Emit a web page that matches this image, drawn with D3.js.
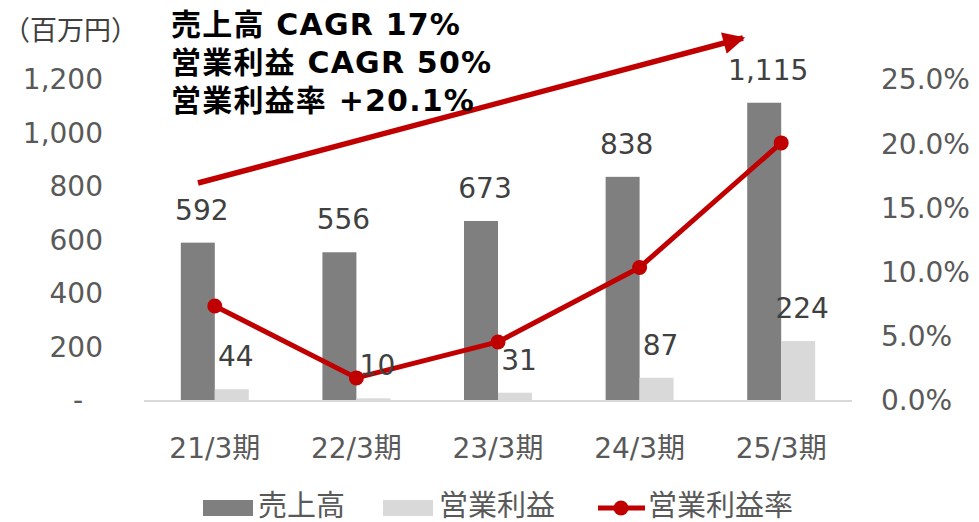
<!DOCTYPE html>
<html>
<head>
<meta charset="utf-8">
<script src="https://cdn.jsdelivr.net/npm/d3@7"></script>
<style>
  body { margin: 0; background: #fff; }
  text { font-family: "DejaVu Sans", "Noto Sans CJK JP", sans-serif; }
</style>
</head>
<body>
<div id="chart"></div>
<script>
// chart data
const categories = ["21/3期", "22/3期", "23/3期", "24/3期", "25/3期"];
const sales = [592, 556, 673, 838, 1115];      // 売上高 (百万円)
const opIncome = [44, 10, 31, 87, 224];        // 営業利益 (百万円)
const opMargin = [7.4, 1.8, 4.6, 10.4, 20.1];  // 営業利益率 (%)
const leftTicks = [0, 200, 400, 600, 800, 1000, 1200];
const rightTicks = [0, 5, 10, 15, 20, 25];
const headline = ["売上高 CAGR 17%", "営業利益 CAGR 50%", "営業利益率 +20.1%"];
const seriesNames = ["売上高", "営業利益", "営業利益率"];

let w = 979,
    h = 522;

const darkGray = "#7f7f7f",
      lightGray = "#d9d9d9",
      red = "#c00000",
      labelColor = "#595959",
      valueColor = "#404040";

let svg = d3.select("#chart")
            .append("svg")
            .attr("width", w)
            .attr("height", h);

// scales
let x0 = d3.scaleBand()
           .domain(categories)
           .range([144, 852]);

let groupW = x0.bandwidth() * 0.48;
let x1 = d3.scaleBand()
           .domain(["sales", "op"])
           .range([(x0.bandwidth() - groupW) / 2, (x0.bandwidth() + groupW) / 2]);

let y = d3.scaleLinear().domain([0, 1200]).range([401, 80]);
let y2 = d3.scaleLinear().domain([0, 25]).range([401, 80]);

// left axis
let leftAxis = svg.append("g")
  .attr("transform", "translate(103,0)")
  .call(d3.axisLeft(y).tickValues(leftTicks).tickSize(0).tickPadding(0)
          .tickFormat(d => d === 0 ? "-" : d3.format(",")(d)));
leftAxis.select(".domain").remove();
leftAxis.selectAll("text")
  .attr("fill", labelColor)
  .style("font-size", "28px")
  .attr("dx", d => d === 0 ? -20 : 0);

// right axis
let rightAxis = svg.append("g")
  .attr("transform", "translate(881,0)")
  .call(d3.axisRight(y2).tickValues(rightTicks).tickSize(0).tickPadding(0)
          .tickFormat(d => d.toFixed(1) + "%"));
rightAxis.select(".domain").remove();
rightAxis.selectAll("text")
  .attr("fill", labelColor)
  .style("font-size", "28px");

// bars
let rows = categories.map((c, i) => ({ cat: c, sales: sales[i], op: opIncome[i], margin: opMargin[i] }));

svg.selectAll(".bar-sales")
  .data(rows)
  .enter()
  .append("rect")
  .attr("class", "bar-sales")
  .attr("x", d => x0(d.cat) + x1("sales"))
  .attr("width", x1.bandwidth())
  .attr("y", d => y(d.sales))
  .attr("height", d => y(0) - y(d.sales))
  .attr("fill", darkGray);

svg.selectAll(".bar-op")
  .data(rows)
  .enter()
  .append("rect")
  .attr("class", "bar-op")
  .attr("x", d => x0(d.cat) + x1("op"))
  .attr("width", x1.bandwidth())
  .attr("y", d => y(d.op))
  .attr("height", d => y(0) - y(d.op))
  .attr("fill", lightGray);

// category axis line
svg.append("line")
  .attr("x1", x0.range()[0])
  .attr("x2", x0.range()[1])
  .attr("y1", y(0))
  .attr("y2", y(0))
  .attr("stroke", lightGray)
  .attr("stroke-width", 2);

// category labels
svg.selectAll(".cat")
  .data(categories)
  .enter()
  .append("text")
  .attr("class", "cat")
  .attr("x", d => x0(d) + x0.bandwidth() / 2)
  .attr("y", 458)
  .attr("text-anchor", "middle")
  .attr("fill", labelColor)
  .style("font-size", "28px")
  .text(d => d);

// margin line
let line = d3.line()
  .x(d => x0(d.cat) + x0.bandwidth() / 2)
  .y(d => y2(d.margin));

svg.append("path")
  .datum(rows)
  .attr("d", line)
  .attr("fill", "none")
  .attr("stroke", red)
  .attr("stroke-width", 5)
  .attr("stroke-linejoin", "round");

svg.selectAll(".dot")
  .data(rows)
  .enter()
  .append("circle")
  .attr("cx", d => x0(d.cat) + x0.bandwidth() / 2)
  .attr("cy", d => y2(d.margin))
  .attr("r", 7.5)
  .attr("fill", red);

// value labels (drawn last, on top)
svg.selectAll(".lbl-sales")
  .data(rows)
  .enter()
  .append("text")
  .attr("x", d => x0(d.cat) + x1("sales") + x1.bandwidth() / 2 + 4)
  .attr("y", d => y(d.sales) - 23)
  .attr("text-anchor", "middle")
  .attr("fill", valueColor)
  .style("font-size", "28px")
  .text(d => d3.format(",")(d.sales));

svg.selectAll(".lbl-op")
  .data(rows)
  .enter()
  .append("text")
  .attr("x", d => x0(d.cat) + x1("op") + x1.bandwidth() / 2 + 4)
  .attr("y", d => y(d.op) - 23)
  .attr("text-anchor", "middle")
  .attr("fill", valueColor)
  .style("font-size", "28px")
  .text(d => d3.format(",")(d.op));

// unit label
svg.append("text")
  .attr("x", 3)
  .attr("y", 40)
  .attr("fill", valueColor)
  .style("font-size", "27px")
  .text("（百万円）");

// growth arrow annotation
svg.append("defs").append("marker")
  .attr("id", "arrowhead")
  .attr("viewBox", "0 0 10 10")
  .attr("refX", 9)
  .attr("refY", 5)
  .attr("markerWidth", 4.4)
  .attr("markerHeight", 4)
  .attr("markerUnits", "strokeWidth")
  .attr("orient", "auto")
  .append("path")
  .attr("d", "M0,0 L10,5 L0,10 Z")
  .attr("fill", red);

svg.append("line")
  .attr("x1", 198)
  .attr("y1", 183)
  .attr("x2", 743)
  .attr("y2", 38)
  .attr("stroke", red)
  .attr("stroke-width", 5.5)
  .attr("marker-end", "url(#arrowhead)");

// headline text
svg.selectAll(".headline")
  .data(headline)
  .enter()
  .append("text")
  .attr("x", 171)
  .attr("y", (d, i) => 35 + i * 38)
  .attr("fill", "#000")
  .style("font-size", "30px")
  .style("font-weight", "bold")
  .style("letter-spacing", "1.2px")
  .text(d => d);

// legend
let legend = svg.append("g");
let ly = 508;

legend.append("rect").attr("x", 203).attr("y", ly - 8).attr("width", 50).attr("height", 16).attr("fill", darkGray);
legend.append("text").attr("x", 258).attr("y", ly + 8).attr("fill", labelColor)
  .style("font-size", "29px").text(seriesNames[0]);

legend.append("rect").attr("x", 383).attr("y", ly - 8).attr("width", 50).attr("height", 16).attr("fill", lightGray);
legend.append("text").attr("x", 439).attr("y", ly + 8).attr("fill", labelColor)
  .style("font-size", "29px").text(seriesNames[1]);

legend.append("line").attr("x1", 598).attr("x2", 645).attr("y1", ly).attr("y2", ly)
  .attr("stroke", red).attr("stroke-width", 5);
legend.append("circle").attr("cx", 621).attr("cy", ly).attr("r", 7.5).attr("fill", red);
legend.append("text").attr("x", 648).attr("y", ly + 8).attr("fill", labelColor)
  .style("font-size", "29px").text(seriesNames[2]);
</script>
</body>
</html>
